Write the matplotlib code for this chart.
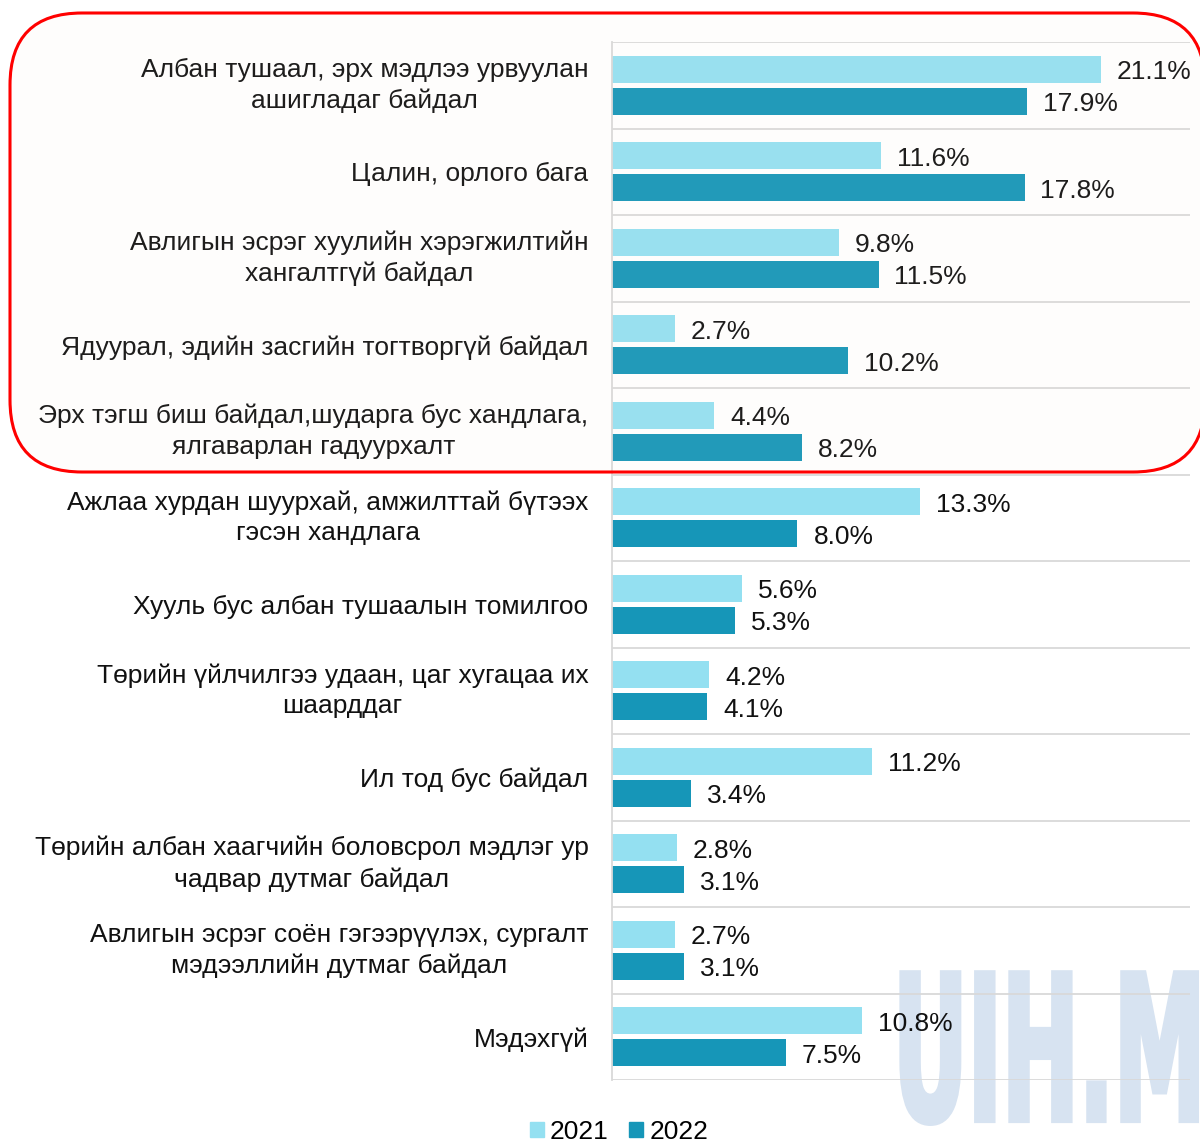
import matplotlib
matplotlib.use('Agg')
import matplotlib.pyplot as plt
import numpy as np
from matplotlib.patches import FancyBboxPatch, Patch, PathPatch
from matplotlib.textpath import TextPath
from matplotlib.font_manager import FontProperties
from matplotlib.transforms import Affine2D

plt.rcParams['font.family'] = ['Liberation Sans', 'DejaVu Sans']

categories = [
    'Албан тушаал, эрх мэдлээ урвуулан\nашигладаг байдал',
    'Цалин, орлого бага',
    'Авлигын эсрэг хуулийн хэрэгжилтийн\nхангалтгүй байдал',
    'Ядуурал, эдийн засгийн тогтворгүй байдал',
    'Эрх тэгш биш байдал,шударга бус хандлага,\nялгаварлан гадуурхалт',
    'Ажлаа хурдан шуурхай, амжилттай бүтээх\nгэсэн хандлага',
    'Хууль бус албан тушаалын томилгоо',
    'Төрийн үйлчилгээ удаан, цаг хугацаа их\nшаарддаг',
    'Ил тод бус байдал',
    'Төрийн албан хаагчийн боловсрол мэдлэг ур\nчадвар дутмаг байдал',
    'Авлигын эсрэг соён гэгээрүүлэх, сургалт\nмэдээллийн дутмаг байдал',
    'Мэдэхгүй',
]
v2021 = [21.1, 11.6, 9.8, 2.7, 4.4, 13.3, 5.6, 4.2, 11.2, 2.8, 2.7, 10.8]
v2022 = [17.9, 17.8, 11.5, 10.2, 8.2, 8.0, 5.3, 4.1, 3.4, 3.1, 3.1, 7.5]
years = ['2021', '2022']

c2021 = '#94E0F1'
c2022 = '#1696B8'
grid_c = '#D9D9D9'
fs = 19

fig = plt.figure(figsize=(12, 11.42), dpi=100)
ax = fig.add_axes([612 / 1200, 62 / 1142, 578 / 1200, 1038 / 1142])
ax.patch.set_alpha(0)

y = np.arange(len(categories))
off = 0.185
h = 0.31
ax.barh(y - off, v2021, height=h, color=c2021, zorder=2)
ax.barh(y + off, v2022, height=h, color=c2022, zorder=2)

for i in range(len(categories)):
    ax.annotate(f'{v2021[i]:.1f}%', (v2021[i], y[i] - off), xytext=(11.5, -2),
                textcoords='offset points', va='center', ha='left', fontsize=fs, color='#111111')
    ax.annotate(f'{v2022[i]:.1f}%', (v2022[i], y[i] + off), xytext=(11.5, -2),
                textcoords='offset points', va='center', ha='left', fontsize=fs, color='#111111')

for b in np.arange(-0.5, len(categories), 1.0):
    ax.axhline(b, color=grid_c, lw=1.3, zorder=1)

ax.set_xlim(0, 24.94)
ax.set_ylim(len(categories) - 0.5, -0.5)
ax.set_xticks([])
ax.set_yticks(y)
ax.set_yticklabels(categories, fontsize=fs, color='#111111')
for t in ax.get_yticklabels():
    t.set_multialignment('center')
    t.set_linespacing(1.35)
    if '\n' in t.get_text():
        t.set_verticalalignment('center')
ax.tick_params(axis='y', length=0, pad=17)
for s in ['top', 'right', 'bottom']:
    ax.spines[s].set_visible(False)
ax.spines['left'].set_color(grid_c)
ax.spines['left'].set_linewidth(1.3)

handles = [Patch(color=c2021), Patch(color=c2022)]
fig.legend(handles, years, loc='center', bbox_to_anchor=(619 / 1200, 1 - 1132 / 1142),
           ncol=2, frameon=False, fontsize=fs, handlelength=0.53, handleheight=0.53,
           handletextpad=0.23, columnspacing=0.8, borderaxespad=0)

# watermark, condensed bold letters behind the plot
wm = TextPath((0, 0), 'UIH.MN', size=1, prop=FontProperties(family='DejaVu Sans', weight='bold'))
wm_tr = Affine2D().scale(0.92, 2.04).translate(8.93, 0.21) + fig.dpi_scale_trans
fig.patches.append(PathPatch(wm, transform=wm_tr, facecolor='#D7E3F1', edgecolor='#D7E3F1',
                             linewidth=3, zorder=-1))

# highlighted group
box = FancyBboxPatch((0.10, (1142 - 472) / 100), 11.95, 4.59,
                     boxstyle='round,pad=0,rounding_size=0.72',
                     transform=fig.dpi_scale_trans, facecolor=(0.94, 0.88, 0.84, 0.06),
                     edgecolor='#FF0000', linewidth=2.2, zorder=10)
fig.patches.append(box)

fig.savefig('out.png', dpi=100)
